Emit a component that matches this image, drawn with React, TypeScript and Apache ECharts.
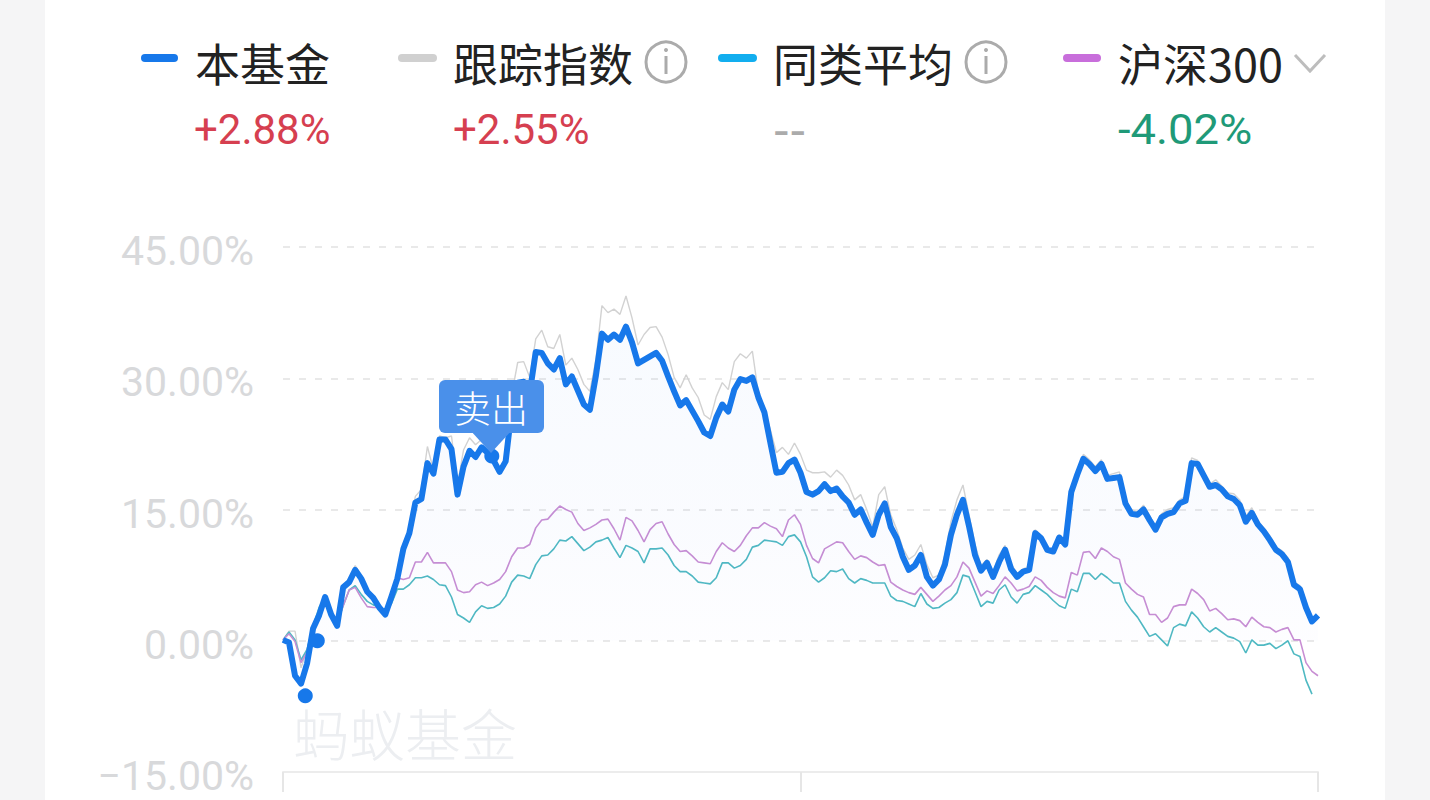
import React, { useEffect, useRef } from "react";
import * as echarts from "echarts";

const yTicks = [-15, 0, 15, 30, 45];
const fundName = "本基金";
const trackName = "跟踪指数";
const peerName = "同类平均";
const indexName = "沪深300";
const fundReturn = "+2.88%";
const trackReturn = "+2.55%";
const peerReturn = "--";
const indexReturn = "-4.02%";
const sellLabel = "卖出";
const watermark = "蚂蚁基金";

const fund = [0.1,-0.2,-4.0,-4.9,-2.6,1.4,2.9,5.0,3.0,1.7,6.1,6.7,8.1,7.1,5.6,4.9,3.8,3.0,5.0,7.1,10.5,12.3,15.8,16.2,20.3,19.1,23.0,23.0,21.9,16.7,19.9,21.7,21.0,22.1,21.5,20.6,19.3,20.5,26.4,29.5,29.6,28.3,33.0,32.9,31.7,31.0,32.3,29.3,30.2,28.6,27.0,26.4,30.3,35.1,34.4,35.0,34.4,35.9,34.1,31.7,32.1,32.5,32.9,32.0,30.2,28.5,26.9,27.5,26.3,25.1,23.8,23.4,25.5,27.0,26.2,28.7,29.9,29.7,30.1,27.8,26.1,22.6,19.2,19.3,20.3,20.7,19.2,17.0,16.7,17.1,17.9,17.1,17.4,16.5,15.8,14.4,15.0,13.5,12.1,14.4,15.7,13.0,11.7,9.6,8.1,8.6,9.8,7.3,6.3,7.0,8.7,12.1,14.4,16.1,13.1,9.8,8.0,8.9,7.3,9.0,10.4,8.2,7.3,7.9,8.1,12.3,11.7,10.4,10.2,11.8,11.0,17.0,19.0,20.8,20.2,19.4,20.2,18.5,18.6,18.7,15.7,14.5,14.4,15.0,13.8,12.7,14.1,14.5,14.7,15.7,16.0,20.3,20.2,18.9,17.6,17.8,17.3,16.5,16.2,15.5,13.6,14.6,13.3,12.5,11.5,10.4,9.9,9.0,6.4,5.9,3.8,2.2,2.9];

const track = [0.1,1.1,1.1,-3.1,-1.0,1.7,3.3,5.3,3.1,1.9,6.3,7.0,8.6,7.4,5.8,5.1,4.0,3.1,5.1,7.5,11.0,12.9,16.5,17.3,22.2,19.5,23.4,23.2,23.4,17.8,21.8,23.2,22.4,23.0,22.2,21.3,19.5,20.9,28.1,31.8,31.9,30.1,34.5,35.5,33.6,33.4,35.0,31.5,32.3,31.0,29.3,28.5,32.1,38.3,37.5,37.9,37.3,39.4,36.9,33.8,35.0,35.8,35.9,34.7,32.7,30.1,28.9,30.4,28.9,27.8,25.8,25.3,27.9,29.5,28.7,31.9,32.8,32.3,33.1,28.3,26.4,24.1,21.5,22.1,21.3,22.6,21.3,19.5,19.2,19.2,19.3,18.7,19.5,18.9,17.8,16.1,16.7,15.0,13.0,16.7,17.6,14.4,12.7,10.6,9.3,9.8,11.0,8.7,7.2,7.5,9.8,13.6,16.1,17.8,14.4,11.0,8.6,9.3,7.9,9.8,10.9,8.8,7.7,8.2,8.5,12.7,12.0,10.6,10.4,12.1,11.3,17.4,19.3,21.3,20.7,19.9,20.7,18.9,19.1,19.3,16.1,15.0,14.7,15.5,14.3,13.0,14.5,15.0,15.2,16.1,16.5,20.9,20.6,19.3,17.9,18.4,17.7,16.9,16.8,16.1,14.2,15.2,13.7,12.9,12.0,10.7,10.3,9.5,6.7,6.3,3.9,2.1,2.5];

const index300 = [0.1,0.8,-0.1,-2.5,-1.3,1.5,3.5,4.7,3.3,2.1,4.0,5.8,6.1,4.9,3.9,3.8,3.8,3.4,4.9,7.2,7.0,7.2,9.0,9.0,10.1,8.9,8.9,8.9,7.9,5.8,5.5,5.6,6.4,6.7,6.3,6.6,7.0,7.9,9.6,10.6,10.6,11.0,12.9,13.8,13.9,14.7,15.4,15.0,14.7,13.4,12.6,12.9,13.3,13.8,13.9,12.8,11.5,14.1,13.7,12.6,11.3,12.7,13.4,13.6,12.2,11.0,10.2,10.3,9.7,9.0,8.9,8.8,10.2,11.2,10.6,10.2,10.9,12.0,12.9,12.9,13.5,13.1,12.8,11.9,13.8,14.4,13.3,10.9,9.4,8.9,10.5,10.9,11.3,11.2,10.2,9.3,9.7,9.5,9.0,8.6,8.7,6.7,6.2,5.8,5.5,5.3,6.1,5.3,4.5,5.1,5.8,6.3,7.3,9.0,8.3,6.7,5.1,5.7,5.4,6.3,7.3,6.6,5.7,5.9,6.2,7.3,6.9,6.1,5.5,5.1,4.9,7.8,7.5,10.1,10.2,9.4,10.6,10.2,9.6,9.3,6.6,5.9,5.3,5.0,3.0,3.0,2.1,2.6,3.9,4.1,4.1,5.9,5.4,4.7,3.4,3.7,3.1,2.4,2.5,2.3,1.6,2.7,2.1,1.6,1.5,1.0,1.3,1.5,0.1,0.1,-2.5,-3.5,-4.0];

const peer = [0.1,1.0,0.1,-2.2,-1.0,1.7,3.8,5.0,3.3,1.9,4.0,5.8,6.3,5.3,4.5,4.1,3.9,3.3,4.2,5.9,5.9,6.4,7.2,7.2,7.4,7.0,6.4,6.3,5.0,3.0,2.6,2.1,3.3,4.0,3.7,3.8,4.2,5.1,6.7,7.5,7.4,7.1,8.7,9.7,9.8,10.5,11.5,11.4,11.9,11.1,10.3,10.7,11.3,11.5,11.8,10.6,9.5,10.9,10.6,10.2,8.9,10.5,10.5,10.6,9.8,8.6,7.9,7.9,7.4,6.7,6.6,6.5,7.2,8.9,8.9,8.3,8.6,9.3,10.7,10.9,11.5,11.4,11.3,10.9,11.9,12.1,11.3,9.6,7.3,6.7,7.2,8.0,7.9,8.2,7.1,6.6,7.1,6.9,6.6,6.6,6.6,5.1,4.6,4.5,4.2,3.9,5.4,4.2,3.7,3.8,4.3,4.7,5.5,7.5,7.3,5.6,3.9,4.5,4.3,5.8,6.4,5.0,4.3,5.3,5.5,6.3,5.8,5.3,4.6,4.0,3.7,5.9,5.6,7.7,7.7,7.0,7.7,7.2,6.6,6.6,4.5,3.5,2.7,1.6,0.5,0.8,0.1,-0.6,1.5,1.9,1.7,3.3,2.6,1.6,1.0,1.5,1.0,0.5,0.3,-0.1,-1.4,0.1,-0.5,-0.5,-0.3,-0.9,-0.5,0.0,-1.5,-1.8,-4.5,-6.1];

const tradeDays = [3.7, 5.7, 34.7];
const tradeValues = [-6.3, 0, 21.1];

const toPairs = (values: number[]) => values.map((v, i) => [i, v]);

const nameFont = '"Noto Sans CJK SC", "Noto Sans", sans-serif';
const numFont = 'Roboto, "Noto Sans", sans-serif';

function legendItem(x: number, w: number, color: string, name: string, textX: number) {
  return [
    { type: "rect", shape: { x, y: 54, width: w, height: 8, r: 4 }, style: { fill: color } },
    {
      type: "text",
      x: textX,
      y: 62,
      style: { text: name, fill: "#222", font: `400 45px ${nameFont}`, textVerticalAlign: "middle", textBaseline: "middle" },
    },
  ];
}

function valueText(x: number, text: string, color: string, fontFamily = numFont, size = 42, scaleX = 1) {
  return {
    type: "text",
    x,
    y: 129.5,
    scaleX,
    style: { text, fill: color, font: `400 ${size}px ${fontFamily}`, textBaseline: "middle", textVerticalAlign: "middle" },
  };
}

function infoIcon(cx: number) {
  return [
    { type: "circle", shape: { cx, cy: 62, r: 20 }, style: { fill: "none", stroke: "#ababab", lineWidth: 3 } },
    { type: "rect", shape: { x: cx - 1.5, y: 56, width: 3, height: 18 }, style: { fill: "#ababab" } },
    { type: "circle", shape: { cx, cy: 50, r: 2 }, style: { fill: "#ababab" } },
  ];
}

export default function App() {
  const ref = useRef<HTMLDivElement>(null);

  useEffect(() => {
    if (!ref.current) return;
    const chart = echarts.init(ref.current, undefined, { renderer: "svg" });
    chart.setOption({
      animation: false,
      backgroundColor: "transparent",
      grid: { left: 283, right: 112, top: 247, height: 525 },
      xAxis: {
        type: "value",
        min: 0,
        max: 172,
        interval: 86,
        axisLine: { onZero: false, lineStyle: { color: "#ececec", width: 2 } },
        axisTick: { show: true, length: 20, lineStyle: { color: "#e6e6e6", width: 2 } },
        axisLabel: { show: false },
        splitLine: { show: false },
      },
      yAxis: {
        type: "value",
        min: yTicks[0],
        max: yTicks[yTicks.length - 1],
        interval: 15,
        axisLine: { show: false },
        axisTick: { show: false },
        axisLabel: {
          margin: 29,
          color: "#d8d9db",
          fontFamily: "Roboto",
          fontSize: 41,
          verticalAlign: "top",
          lineHeight: 8,
          formatter: (v: number) => (v < 0 ? "−" + Math.abs(v).toFixed(2) : v.toFixed(2)) + "%",
        },
        splitLine: { lineStyle: { color: "#e9e9e9", type: [7, 9], width: 2 } },
      },
      series: [
        {
          name: trackName,
          type: "line",
          data: toPairs(track),
          showSymbol: false,
          z: 2,
          lineStyle: { color: "#d2d2d2", width: 1.4 },
        },
        {
          name: peerName,
          type: "line",
          data: toPairs(peer),
          showSymbol: false,
          z: 3,
          lineStyle: { color: "#4fb9c2", width: 1.6 },
        },
        {
          name: indexName,
          type: "line",
          data: toPairs(index300),
          showSymbol: false,
          z: 4,
          lineStyle: { color: "#c88ed3", width: 1.6 },
        },
        {
          name: fundName,
          type: "line",
          data: toPairs(fund),
          showSymbol: false,
          z: 5,
          lineStyle: { color: "#1778ea", width: 6, join: "round" },
          areaStyle: {
            origin: 0,
            color: new echarts.graphic.LinearGradient(0, 0, 0, 1, [
              { offset: 0, color: "rgba(40,130,240,0.05)" },
              { offset: 0.6, color: "rgba(60,110,240,0.035)" },
              { offset: 1, color: "rgba(90,90,240,0.005)" },
            ]),
          },
        },
        {
          name: "trades",
          type: "scatter",
          data: tradeDays.map((d, i) => [d, tradeValues[i]]),
          symbolSize: 15,
          z: 6,
          itemStyle: { color: "#1778ea", opacity: 1 },
        },
      ],
      graphic: {
        elements: [
          ...legendItem(141, 37, "#1778ea", fundName, 195),
          ...legendItem(398, 39, "#d0d0d0", trackName, 453),
          ...legendItem(718, 39, "#12aeef", peerName, 773),
          ...legendItem(1063, 38, "#c86edb", indexName, 1118),
          ...infoIcon(666),
          ...infoIcon(986),
          {
            type: "polyline",
            shape: { points: [[1295, 55], [1310, 71], [1325, 55]] },
            style: { fill: "none", stroke: "#bdbdbd", lineWidth: 3 },
          },
          valueText(194, fundReturn, "#d63f50"),
          valueText(453, trackReturn, "#d63f50"),
          valueText(773, peerReturn, "#ababab", '"DejaVu Sans"', 46),
          valueText(1118, indexReturn, "#1f9a78", numFont, 42, 1.08),
          {
            type: "text",
            x: 293,
            y: 731,
            z: 1,
            style: {
              text: watermark,
              fill: "#eceef1",
              font: `300 56px ${nameFont}`,
              textBaseline: "middle",
              textVerticalAlign: "middle",
            },
          },
          {
            type: "polygon",
            z: 100,
            shape: { points: [[470, 430], [512, 430], [491, 453]] },
            style: { fill: "#4a90ea" },
          },
          {
            type: "rect",
            z: 100,
            shape: { x: 439, y: 380, width: 105, height: 53, r: 6 },
            style: { fill: "#4a90ea" },
          },
          {
            type: "text",
            x: 491,
            y: 407,
            z: 101,
            style: {
              text: sellLabel,
              fill: "#ffffff",
              font: `300 37px ${nameFont}`,
              textAlign: "center",
              textVerticalAlign: "middle",
              textBaseline: "middle",
            },
          },
        ],
      },
    });
    return () => chart.dispose();
  }, []);

  return (
    <div style={{ position: "fixed", left: 0, top: 0, width: 1430, height: 800, background: "#f5f5f6", overflow: "hidden" }}>
      <div style={{ position: "absolute", left: 45, top: 0, width: 1340, height: 800, background: "#ffffff" }} />
      <div ref={ref} style={{ position: "absolute", left: 0, top: 0, width: 1430, height: 800 }} />
    </div>
  );
}
